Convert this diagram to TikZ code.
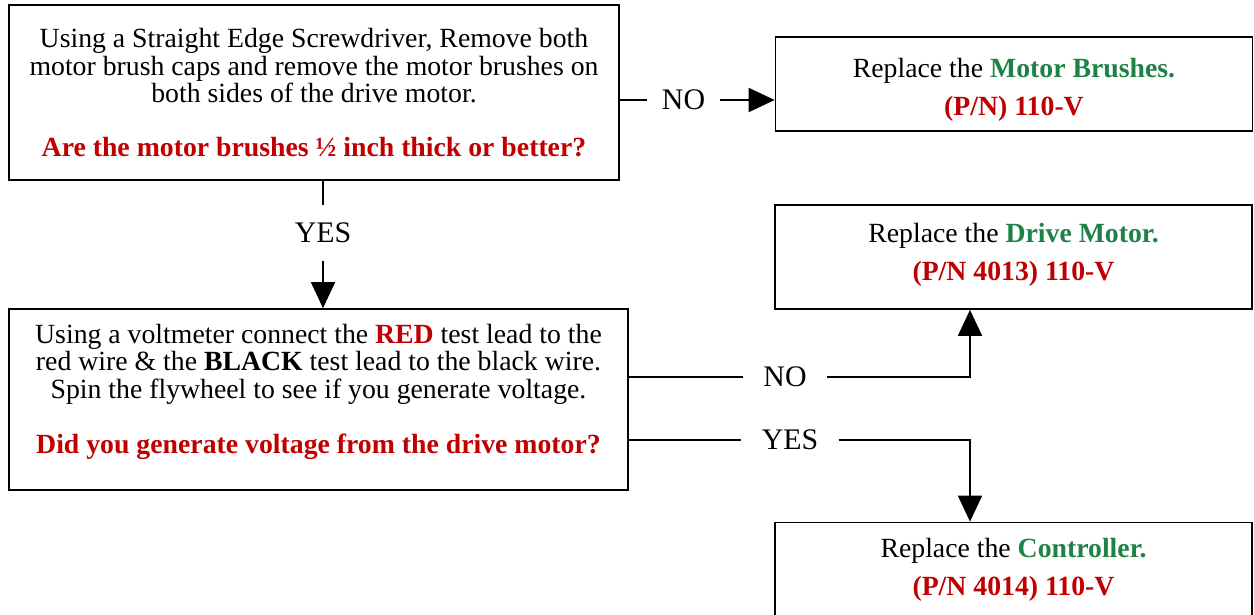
\documentclass[tikz,border=0pt]{standalone}
\usepackage{fontspec}
\setmainfont{Liberation Serif}
\usetikzlibrary{arrows.meta}

\definecolor{partred}{RGB}{192,0,0}
\definecolor{partgreen}{RGB}{30,130,70}

\tikzset{
  stepbox/.style={draw, line width=1pt, align=center, inner sep=0pt,
    font=\fontsize{15.8}{15.9}\selectfont},
  partbox/.style={stepbox, minimum width=9.54cm},
  answer/.style={inner xsep=0.4cm, inner ysep=0.25cm, font=\fontsize{17}{17}\selectfont},
  flow/.style={line width=1pt, -{Triangle[length=0.52cm,width=0.48cm]}},
}
\newcommand{\redq}[1]{{\color{partred}\bfseries #1}}
\newcommand{\greenp}[1]{{\color{partgreen}\bfseries #1}}

\begin{document}
\begin{tikzpicture}[x=0.02cm,y=-0.02cm]
\useasboundingbox (0,0) rectangle (1254,615);

% questions
\node[stepbox, minimum width=12.2cm, minimum height=3.5cm] (brushes) at (314,92.5)
  {Using a Straight Edge Screwdriver, Remove both\\
   motor brush caps and remove the motor brushes on\\
   both sides of the drive motor.\\[14.7pt]
   \redq{Are the motor brushes ½ inch thick or better?}};
\node[stepbox, minimum width=12.38cm, minimum height=3.62cm] (volts) at (318.5,399.5)
  {Using a voltmeter connect the \redq{RED} test lead to the\\
   red wire \& the \textbf{BLACK} test lead to the black wire.\\
   Spin the flywheel to see if you generate voltage.\\[15pt]
   \redq{Did you generate voltage from the drive motor?}\rule[-0.44cm]{0pt}{0pt}};

% parts
\node[partbox, minimum height=1.88cm] (newbrush) at (1014,84)
  {\rule{0pt}{0.62cm}Replace the \greenp{Motor Brushes.}\\[6pt] \redq{(P/N) 110-V}};
\node[partbox, minimum height=2.08cm] (newmotor) at (1013.5,257)
  {Replace the \greenp{Drive Motor.}\\[5.7pt] \redq{(P/N 4013) 110-V}\rule[-0.2cm]{0pt}{0pt}};
\node[partbox, minimum height=1.9cm] (newctrl) at (1013.5,570)
  {Replace the \greenp{Controller.}\\[5.7pt] \redq{(P/N 4014) 110-V}};

% answers
\node[answer, inner xsep=0.3cm] (no1) at (683.5,100) {NO};
\node[answer, inner ysep=0.35cm] (yes1) at (323,233) {YES};
\node[answer] (no2) at (785,377) {NO};
\node[answer] (yes2) at (790,440) {YES};
\coordinate (bend1) at (970,377);
\coordinate (bend2) at (970,440);

\draw[line width=1pt] (brushes.east |- no1) -- (no1.west);
\draw[flow] (no1.east) -- (newbrush.west |- no1);

\draw[line width=1pt] (yes1 |- brushes.south) -- (yes1.north);
\draw[flow] (yes1.south) -- (yes1 |- volts.north);

\draw[line width=1pt] (volts.east |- no2) -- (no2.west);
\draw[flow] (no2.east) -- (bend1) -- (bend1 |- newmotor.south);

\draw[line width=1pt] (volts.east |- yes2) -- (yes2.west);
\draw[flow] (yes2.east) -- (bend2) -- (bend2 |- newctrl.north);
\end{tikzpicture}
\end{document}
